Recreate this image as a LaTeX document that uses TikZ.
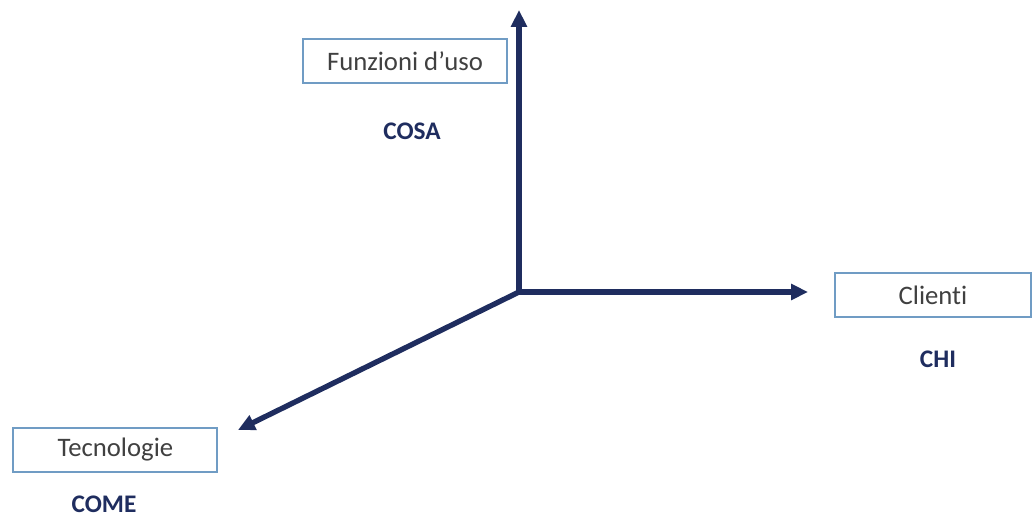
\documentclass[tikz,border=0pt]{standalone}
\usepackage{fontspec}
\setmainfont[Ligatures=NoCommon]{Carlito}
\usetikzlibrary{arrows.meta}

\definecolor{navy}{RGB}{31,45,95}
\definecolor{boxblue}{RGB}{112,156,196}
\definecolor{txtgray}{RGB}{64,64,64}

\begin{document}
\begin{tikzpicture}[
        axis/.style = {navy, line width = 3.8pt,
            -{Triangle[length = 12pt, width = 11pt]}},
        dimbox/.style = {draw = boxblue, line width = 1.3pt, text = txtgray,
            minimum height = 1.1cm, font = \fontsize{19}{22}\selectfont},
        dimlabel/.style = {text = navy, font = \fontsize{18}{21}\selectfont\bfseries}
    ]
    \useasboundingbox (0,0) rectangle (25.825,13);

    % the three axes
    \coordinate (o) at (12.975,5.7);
    \coordinate (top) at (12.975,12.75);
    \coordinate (right) at (20.2,5.7);
    \coordinate (left) at (5.95,2.25);
    \draw [axis] (o) -- (top);
    \draw [axis] (o) -- (right);
    \draw [axis] (o) -- (left);

    % boxes and labels
    \node [dimbox, minimum width = 5.1cm] (funzioni) at (10.125,11.475) {Funzioni d’uso};
    \node [dimlabel] (cosa) at (10.3,9.72) {COSA};

    \node [dimbox, minimum width = 4.9cm] (clienti) at (23.325,5.62) {Clienti};
    \node [dimlabel] (chi) at (23.45,4.02) {CHI};

    \node [dimbox, minimum width = 5.1cm] (tecnologie) at (2.885,1.75) {Tecnologie};
    \node [dimlabel] (come) at (2.6,0.4) {COME};
\end{tikzpicture}
\end{document}
